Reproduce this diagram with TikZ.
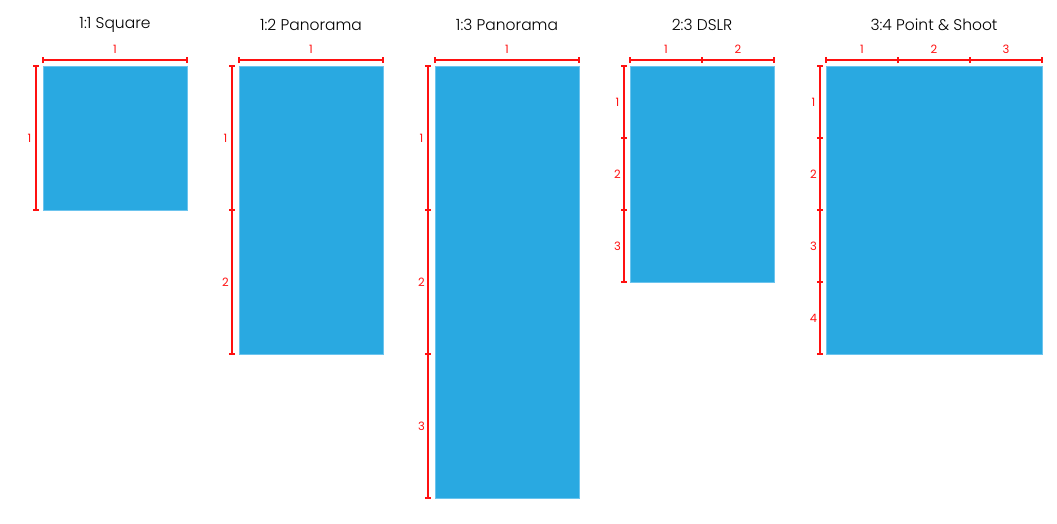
\documentclass[tikz,border=0pt]{standalone}
\usepackage{fontspec}
\setmainfont{Poppins}[UprightFont=* Light]
\newfontfamily\labfont{Poppins}
\definecolor{photoblue}{HTML}{29A9E1}
\definecolor{photoedge}{HTML}{6CC4EE}
\definecolor{dimred}{HTML}{FF1010}
\tikzset{
  photo/.style={fill=photoblue, draw=photoedge, line width=0.8pt, anchor=north west, inner sep=0pt, outer sep=0pt},
  title/.style={font=\fontsize{15.5}{18}\selectfont, text=black, inner sep=0pt},
  dimlab/.style={font=\labfont\fontsize{11.5}{13}\selectfont, text=dimred, inner sep=0pt},
  dimline/.style={draw=dimred, line width=1.1pt},
  dimtick/.style={draw=dimred, line width=1.6pt},
}
\begin{document}
\begin{tikzpicture}[x=1pt,y=-1pt]
\useasboundingbox (0,0) rectangle (1057,523);
% rectangles
\node[photo, minimum width=144pt, minimum height=144pt] (sq) at (43,66) {};
\node[photo, minimum width=144pt, minimum height=288pt] (pa) at (239,66) {};
\node[photo, minimum width=144pt, minimum height=432pt] (pb) at (435,66) {};
\node[photo, minimum width=144pt, minimum height=216pt] (ds) at (630,66) {};
\node[photo, minimum width=216pt, minimum height=288pt] (ps) at (826,66) {};
% titles
\node[title] (tsq) at (115,25) {1:1 Square};
\node[title] (tpa) at (311,25) {1:2 Panorama};
\node[title] (tpb) at (507,25) {1:3 Panorama};
\node[title] (tds) at (702,25) {2:3 DSLR};
\node[title] (tps) at (934,25) {3:4 Point \& Shoot};
% top dimensions
\foreach \n/\x/\w/\k in {sq/43/144/1, pa/239/144/1, pb/435/144/1, ds/630/72/2, ps/826/72/3}{
  \coordinate (\n-t0) at (\x,60);
  \draw[dimtick] ([yshift=-3pt]\n-t0) -- ([yshift=3pt]\n-t0);
  \foreach \i in {1,...,\k}{
    \coordinate (\n-t\i) at ({\x+\i*\w},60);
    \draw[dimtick] ([yshift=-3pt]\n-t\i) -- ([yshift=3pt]\n-t\i);
    \node[dimlab] (\n-tl\i) at ({\x+(\i-0.5)*\w},49) {\i};
  }
  \draw[dimline] (\n-t0) -- (\n-t\k);
}
% left dimensions
\foreach \n/\x/\h/\k in {sq/36/144/1, pa/232/144/2, pb/428/144/3, ds/624/72/3, ps/820/72/4}{
  \coordinate (\n-l0) at (\x,66);
  \draw[dimtick] ([xshift=-3pt]\n-l0) -- ([xshift=3pt]\n-l0);
  \foreach \i in {1,...,\k}{
    \coordinate (\n-l\i) at (\x,{66+\i*\h});
    \draw[dimtick] ([xshift=-3pt]\n-l\i) -- ([xshift=3pt]\n-l\i);
    \node[dimlab] (\n-ll\i) at ({\x-6.5},{66+(\i-0.5)*\h}) {\i};
  }
  \draw[dimline] (\n-l0) -- (\n-l\k);
}
\end{tikzpicture}
\end{document}
